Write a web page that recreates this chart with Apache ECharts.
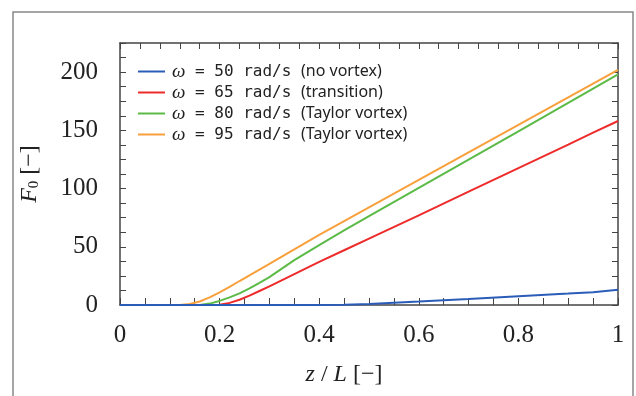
<!DOCTYPE html>
<html>
<head>
<meta charset="utf-8">
<script src="https://cdn.jsdelivr.net/npm/echarts@6/dist/echarts.min.js"></script>
<style>
  html, body { margin: 0; padding: 0; background: #fff; }
  #main { width: 636px; height: 396px; }
</style>
</head>
<body>
<div id="main"></div>
<script>
// z / L positions shared by every curve
const zPos = [0, 0.05, 0.1, 0.12, 0.14, 0.16, 0.18, 0.2, 0.22, 0.24, 0.26, 0.28, 0.3, 0.35, 0.4, 0.45, 0.5, 0.6, 0.7, 0.8, 0.9, 0.95, 1];

// F0 values
const f50 = [0, 0, 0, 0, 0, 0, 0, 0, 0, 0, 0, 0, 0, 0, 0, 0.3, 0.9, 3, 5.2, 7.6, 9.8, 11, 13];
const f65 = [0, 0, 0, 0, 0, 0, 0, 0.3, 1.8, 4.5, 8, 12, 16, 26.5, 37, 47, 57, 77, 97.3, 117.6, 137.8, 148, 158];
const f80 = [0, 0, 0, 0, 0, 0, 1.2, 3.5, 6.5, 10, 14.2, 19, 24, 38.5, 51.5, 64, 76.3, 100.6, 124.9, 149.2, 173.6, 185.8, 198];
const f95 = [0, 0, 0, 0, 0.8, 3, 6.5, 10.8, 15.5, 20.6, 25.5, 30.4, 35.3, 47.8, 60.3, 72.1, 83.9, 107.5, 131.1, 154.7, 178.3, 190.2, 202];

const speeds = ['50', '65', '80', '95'];
const notes = ['(no vortex)', '(transition)', '(Taylor vortex)', '(Taylor vortex)'];
const colors = ['#2b5db8', '#ee2b2b', '#5cba47', '#f7a03c'];

const yTicks = [0, 50, 100, 150, 200];
const xTicks = [0, 0.2, 0.4, 0.6, 0.8, 1];

const allData = [f50, f65, f80, f95];
const names = speeds.map(s => 'w' + s);

const serif = 'Liberation Serif';
const axisColor = '#444';

function pairs(vals) {
  return zPos.map((z, i) => [z, vals[i]]);
}

const chart = echarts.init(document.getElementById('main'));

chart.setOption({
  backgroundColor: '#fff',
  animation: false,
  graphic: [{
    type: 'rect',
    shape: { x: 13, y: 12, width: 620, height: 400 },
    style: { fill: 'none', stroke: '#888', lineWidth: 1.5 },
    silent: true
  }],
  grid: { left: 120, right: 18, top: 43, bottom: 91 },
  legend: {
    orient: 'vertical',
    left: 133,
    top: 57,
    icon: 'rect',
    itemWidth: 27,
    itemHeight: 2,
    itemGap: 2,
    data: names,
    formatter: function (name) {
      const i = names.indexOf(name);
      return '{w|ω}{m| = ' + speeds[i] + ' rad/s }{p|' + notes[i] + '}';
    },
    textStyle: {
      color: '#222',
      rich: {
        w: { fontFamily: serif, fontStyle: 'italic', fontSize: 19, color: '#222', padding: [0, 0, 0, 2] },
        m: { fontFamily: 'DejaVu Sans Mono', fontSize: 16, color: '#222' },
        p: { fontFamily: 'Noto Sans', fontSize: 16, color: '#222' }
      }
    }
  },
  xAxis: [{
    type: 'value',
    min: 0,
    max: 1,
    interval: 0.05,
    name: '{i|z} / {i|L} [−]',
    nameLocation: 'middle',
    nameGap: 58,
    nameTextStyle: {
      fontFamily: serif, fontSize: 24, color: '#222',
      padding: [0, 50, 0, 0],
      rich: { i: { fontFamily: serif, fontStyle: 'italic', fontSize: 24, color: '#222' } }
    },
    axisLine: { onZero: false, lineStyle: { color: axisColor, width: 1.5 } },
    axisTick: { inside: true, length: 7, lineStyle: { color: axisColor } },
    axisLabel: {
      fontFamily: serif, fontSize: 25, color: '#222', margin: 18,
      formatter: function (v) {
        const hit = xTicks.find(t => Math.abs(t - v) < 1e-6);
        return hit === undefined ? '' : String(hit);
      }
    },
    splitLine: { show: false }
  }, {
    type: 'value',
    position: 'top',
    min: 0,
    max: 1,
    interval: 0.04,
    axisLine: { show: true, onZero: false, lineStyle: { color: axisColor, width: 1.5 } },
    axisTick: { show: true, inside: true, length: 6, lineStyle: { color: axisColor } },
    axisLabel: { show: false },
    splitLine: { show: false }
  }],
  yAxis: [{
    type: 'value',
    min: 0,
    max: 225,
    interval: 12.5,
    name: '{i|F}{s|0} [−]',
    nameLocation: 'middle',
    nameGap: 78,
    nameRotate: 90,
    nameTextStyle: {
      fontFamily: serif, fontSize: 24, color: '#222',
      rich: {
        i: { fontFamily: serif, fontStyle: 'italic', fontSize: 24, color: '#222' },
        s: { fontFamily: serif, fontSize: 15, color: '#222', verticalAlign: 'bottom', padding: [8, 0, 0, 0] }
      }
    },
    axisLine: { show: true, onZero: false, lineStyle: { color: axisColor, width: 1.5 } },
    axisTick: { show: true, inside: true, length: 6, lineStyle: { color: axisColor } },
    axisLabel: {
      fontFamily: serif, fontSize: 25, color: '#222', margin: 22,
      formatter: function (v) {
        return yTicks.indexOf(v) >= 0 ? String(v) : '';
      }
    },
    splitLine: { show: false }
  }, {
    type: 'value',
    position: 'right',
    min: 0,
    max: 225,
    interval: 12.5,
    axisLine: { show: true, onZero: false, lineStyle: { color: axisColor, width: 1.5 } },
    axisTick: { show: true, inside: true, length: 6, lineStyle: { color: axisColor } },
    axisLabel: { show: false },
    splitLine: { show: false }
  }],
  series: allData.map((vals, i) => ({
    name: names[i],
    type: 'line',
    data: pairs(vals),
    showSymbol: false,
    symbol: 'none',
    smooth: false,
    z: 10 - i,
    lineStyle: { color: colors[i], width: 2 },
    itemStyle: { color: colors[i] }
  }))
});
</script>
</body>
</html>
